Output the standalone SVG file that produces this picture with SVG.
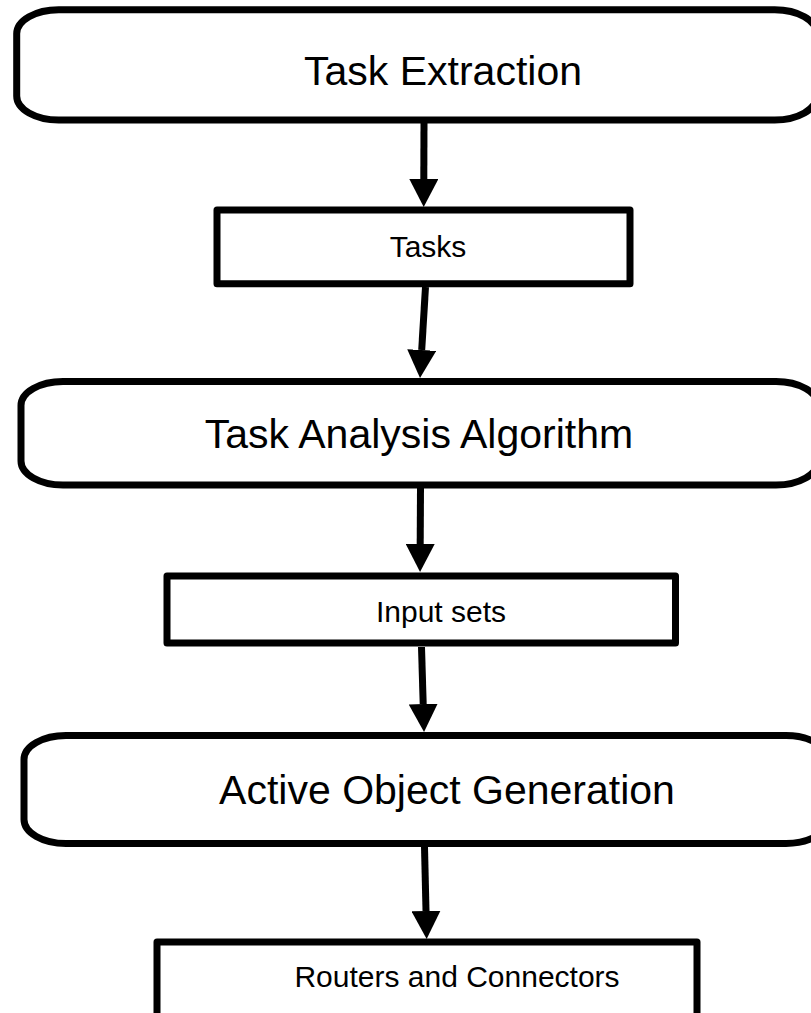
<svg xmlns="http://www.w3.org/2000/svg" width="811" height="1013" viewBox="0 0 811 1013">
  <style>
    .process { fill: #ffffff; stroke: #000000; stroke-width: 7; stroke-linejoin: round; }
    .data { fill: #ffffff; stroke: #000000; stroke-width: 7; stroke-linejoin: round; }
    .big { font-family: "Liberation Sans", Arial, sans-serif; font-size: 41px; fill: #000000; text-anchor: middle; }
    .small { font-family: "Liberation Sans", Arial, sans-serif; font-size: 30px; fill: #000000; text-anchor: middle; }
    .flow { fill: none; stroke: #000000; stroke-width: 7; stroke-linecap: butt; marker-end: url(#head); }
  </style>
  <defs>
    <marker id="head" markerUnits="userSpaceOnUse" viewBox="0 0 28 29" refX="0" refY="14.5" markerWidth="28" markerHeight="29" orient="auto">
      <path d="M0,0 L28,14.5 L0,29 Z" fill="#000000"/>
    </marker>
  </defs>

  <g id="connectors">
    <path class="flow" d="M424,123 L423.8,179"/>
    <path class="flow" d="M425.5,287 L421.7,350"/>
    <path class="flow" d="M420.5,488 L420.2,544"/>
    <path class="flow" d="M421.5,647 L423.2,704"/>
    <path class="flow" d="M424.5,847 L426,911"/>
  </g>

  <g id="task-extraction">
    <rect class="process" x="16.7" y="9.7" width="800" height="110.3" rx="42" ry="24"/>
    <text class="big" x="443" y="85">Task Extraction</text>
  </g>

  <g id="tasks">
    <rect class="data" x="217" y="210" width="413" height="73.7"/>
    <text class="small" x="428" y="257">Tasks</text>
  </g>

  <g id="task-analysis">
    <rect class="process" x="21" y="381.5" width="797" height="103.5" rx="42" ry="24"/>
    <text class="big" x="419" y="448">Task Analysis Algorithm</text>
  </g>

  <g id="input-sets">
    <rect class="data" x="167" y="576" width="508.5" height="67"/>
    <text class="small" x="441" y="622">Input sets</text>
  </g>

  <g id="active-object-generation">
    <rect class="process" x="24" y="735.5" width="804" height="108" rx="42" ry="24"/>
    <text class="big" x="447" y="804">Active Object Generation</text>
  </g>

  <g id="routers-connectors">
    <rect class="data" x="157" y="942" width="540" height="100"/>
    <text class="small" x="457" y="987">Routers and Connectors</text>
  </g>
</svg>
